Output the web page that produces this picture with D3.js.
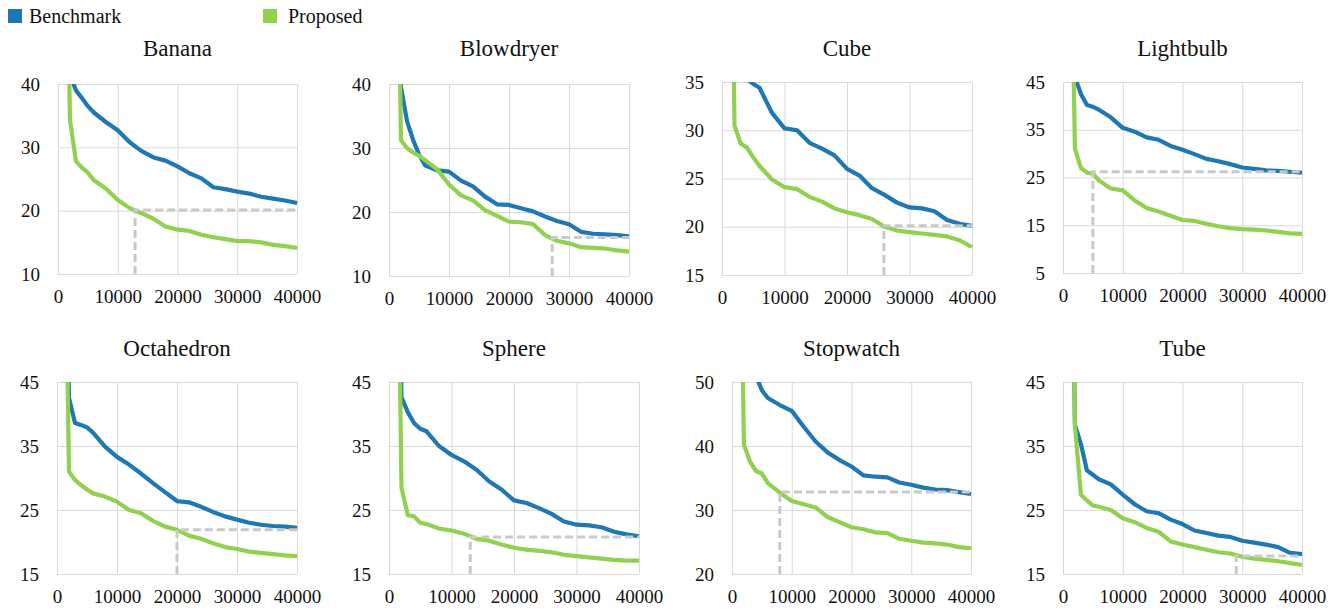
<!DOCTYPE html>
<html>
<head>
<meta charset="utf-8">
<script src="https://cdn.jsdelivr.net/npm/d3@7"></script>
<style>
  html, body { margin: 0; padding: 0; background: #fff; }
  svg { display: block; }
  text { font-family: "Liberation Serif", Tinos, "Times New Roman", Times, "DejaVu Serif", serif; fill: #111; }
</style>
</head>
<body>
<svg id="chart" width="1343" height="614"></svg>
<script>
// ---------------- DATA ----------------
const xValues = [1000, 2000, 3000, 4000, 5000, 6000, 8000, 10000, 12000, 14000, 16000, 18000, 20000,
                 22000, 24000, 26000, 28000, 30000, 32000, 34000, 36000, 38000, 40000];

const panelNames = ["Banana", "Blowdryer", "Cube", "Lightbulb", "Octahedron", "Sphere", "Stopwatch", "Tube"];
const seriesNames = ["Benchmark", "Proposed"];

const bananaBenchmark    = [60, 41.5, 39.0, 37.8, 36.5, 35.5, 34.0, 32.7, 30.8, 29.4, 28.4, 27.9, 27.0, 25.9, 25.1, 23.7, 23.4, 23.0, 22.7, 22.2, 21.9, 21.6, 21.2];
const bananaProposed     = [90, 34.4, 27.8, 26.8, 26.0, 24.8, 23.5, 21.7, 20.4, 19.6, 18.7, 17.5, 17.0, 16.8, 16.2, 15.8, 15.5, 15.2, 15.2, 15.0, 14.6, 14.4, 14.1];
const blowdryerBenchmark = [70, 39.5, 34.2, 31.3, 29.0, 27.3, 26.5, 26.3, 24.9, 24.0, 22.4, 21.2, 21.1, 20.6, 20.1, 19.3, 18.6, 18.1, 16.9, 16.6, 16.5, 16.4, 16.2];
const blowdryerProposed  = [90, 31.2, 30.0, 29.3, 28.8, 28.1, 26.7, 24.3, 22.6, 21.8, 20.3, 19.4, 18.5, 18.4, 18.1, 16.4, 15.5, 15.1, 14.5, 14.4, 14.3, 14.0, 13.8];
const cubeBenchmark      = [60, 45.0, 39.0, 35.3, 34.8, 34.4, 31.8, 30.2, 30.0, 28.7, 28.1, 27.4, 26.0, 25.3, 24.0, 23.3, 22.5, 22.0, 21.9, 21.6, 20.7, 20.3, 20.1];
const cubeProposed       = [80, 30.5, 28.6, 28.2, 27.2, 26.3, 24.9, 24.1, 23.9, 23.1, 22.6, 21.9, 21.5, 21.2, 20.8, 20.0, 19.6, 19.45, 19.3, 19.15, 19.0, 18.6, 17.9];
const lightbulbBenchmark = [90, 46.0, 42.5, 40.2, 39.8, 39.2, 37.6, 35.4, 34.6, 33.4, 32.9, 31.6, 30.8, 29.9, 28.9, 28.4, 27.8, 27.1, 26.8, 26.5, 26.4, 26.2, 26.0];
const lightbulbProposed  = [100, 31.0, 27.0, 26.0, 25.8, 24.4, 22.7, 22.3, 20.2, 18.6, 17.9, 17.0, 16.1, 15.9, 15.3, 14.8, 14.4, 14.2, 14.1, 13.9, 13.6, 13.3, 13.2];
const octahedronBenchmark = [90, 42.5, 38.6, 38.3, 37.9, 37.1, 34.9, 33.3, 32.1, 30.7, 29.2, 27.8, 26.4, 26.2, 25.5, 24.7, 24.0, 23.5, 23.0, 22.7, 22.5, 22.4, 22.2];
const octahedronProposed  = [90, 31.0, 29.7, 28.9, 28.2, 27.6, 27.1, 26.3, 25.0, 24.5, 23.3, 22.4, 21.9, 21.0, 20.5, 19.8, 19.2, 18.9, 18.5, 18.3, 18.1, 17.9, 17.8];
const sphereBenchmark    = [90, 42.6, 40.3, 38.6, 37.7, 37.3, 35.0, 33.6, 32.6, 31.3, 29.5, 28.2, 26.5, 26.1, 25.3, 24.4, 23.2, 22.7, 22.6, 22.3, 21.6, 21.2, 20.9];
const sphereProposed     = [100, 28.5, 24.2, 24.0, 23.0, 22.8, 22.1, 21.8, 21.3, 20.5, 20.2, 19.6, 19.1, 18.8, 18.6, 18.4, 18.0, 17.8, 17.6, 17.4, 17.2, 17.1, 17.1];
const stopwatchBenchmark = [100, 75, 60, 51.0, 48.7, 47.5, 46.4, 45.5, 43.0, 40.7, 39.0, 37.8, 36.8, 35.4, 35.2, 35.1, 34.3, 33.95, 33.5, 33.2, 33.1, 32.8, 32.5];
const stopwatchProposed  = [100, 40.2, 37.6, 36.1, 35.7, 34.2, 32.7, 31.4, 30.9, 30.4, 28.9, 28.1, 27.3, 27.0, 26.5, 26.4, 25.5, 25.2, 24.9, 24.8, 24.6, 24.2, 24.0];
const tubeBenchmark      = [100, 38.3, 35.3, 31.2, 30.5, 29.8, 29.0, 27.4, 25.9, 24.8, 24.5, 23.5, 22.8, 21.8, 21.4, 21.0, 20.8, 20.2, 19.9, 19.6, 19.2, 18.3, 18.1];
const tubeProposed       = [100, 38.1, 27.4, 26.5, 25.7, 25.5, 25.0, 23.7, 23.1, 22.2, 21.6, 20.1, 19.6, 19.2, 18.8, 18.4, 18.2, 17.7, 17.4, 17.2, 17.0, 16.7, 16.4];

const thresholdX = [12900, 27200, 25900, 5000, 20000, 13000, 8000, 29000];
const thresholdY = [20.1, 16.0, 20.1, 26.2, 21.9, 20.8, 32.8, 17.8];

const xTickValues = [0, 10000, 20000, 30000, 40000];
const yTickValues = [
  [10, 20, 30, 40],
  [10, 20, 30, 40],
  [15, 20, 25, 30, 35],
  [5, 15, 25, 35, 45],
  [15, 25, 35, 45],
  [15, 25, 35, 45],
  [20, 30, 40, 50],
  [15, 25, 35, 45]
];

const benchmarkSeries = [bananaBenchmark, blowdryerBenchmark, cubeBenchmark, lightbulbBenchmark,
                         octahedronBenchmark, sphereBenchmark, stopwatchBenchmark, tubeBenchmark];
const proposedSeries  = [bananaProposed, blowdryerProposed, cubeProposed, lightbulbProposed,
                         octahedronProposed, sphereProposed, stopwatchProposed, tubeProposed];

// ---------------- LAYOUT / STYLE ----------------
const FONT = '"Liberation Serif", Tinos, "Times New Roman", Times, "DejaVu Serif", serif';
const plotBoxes = [
  { l: 58,  r: 297,  t: 84,  b: 274 },
  { l: 389, r: 629,  t: 84,  b: 276 },
  { l: 722, r: 972,  t: 82,  b: 275 },
  { l: 1063, r: 1302, t: 82, b: 273 },
  { l: 57,  r: 297,  t: 382, b: 574 },
  { l: 389, r: 639,  t: 382, b: 574 },
  { l: 732, r: 971,  t: 382, b: 574 },
  { l: 1063, r: 1302, t: 382, b: 574 }
];
const titleBaselines = [55.5, 55.5, 55.5, 55.5, 355.5, 355.5, 355.5, 355.5];
const colors = { Benchmark: "#1f77b4", Proposed: "#92d050" };
const gridColor = "#d9d9d9";
const thresholdColor = "#c9c9c9";

const svg = d3.select("#chart");

// Legend
const legend = svg.append("g");
const legendPos = [{ x: 8, tx: 29 }, { x: 263, tx: 288 }];
seriesNames.forEach((name, i) => {
  legend.append("rect").attr("x", legendPos[i].x).attr("y", 9).attr("width", 14).attr("height", 14)
    .attr("fill", colors[name]);
  legend.append("text").attr("x", legendPos[i].tx).attr("y", 22.5).attr("font-size", 20)
    .attr("font-family", FONT).text(name);
});

panelNames.forEach((name, i) => {
  const box = plotBoxes[i];
  const yt = yTickValues[i];
  const x = d3.scaleLinear().domain([0, 40000]).range([box.l, box.r]);
  const y = d3.scaleLinear().domain([yt[0], yt[yt.length - 1]]).range([box.b, box.t]);
  const g = svg.append("g");

  // Gridlines via axes
  const yGrid = g.append("g").attr("transform", `translate(${box.l},0)`)
    .call(d3.axisLeft(y).tickValues(yt).tickSize(-(box.r - box.l)).tickFormat(""));
  yGrid.select(".domain").remove();
  yGrid.selectAll("line").attr("stroke", gridColor).attr("stroke-width", 1);

  const xGrid = g.append("g").attr("transform", `translate(0,${box.b})`)
    .call(d3.axisBottom(x).tickValues(xTickValues).tickSize(-(box.b - box.t)).tickFormat(""));
  xGrid.select(".domain").remove();
  xGrid.selectAll("line").attr("stroke", gridColor).attr("stroke-width", 1);

  // Tick labels
  const yAx = g.append("g").attr("transform", `translate(${box.l},0)`)
    .call(d3.axisLeft(y).tickValues(yt).tickSize(0).tickPadding(18).tickFormat(d3.format("d")));
  yAx.attr("font-family", FONT);
  yAx.select(".domain").remove();
  yAx.selectAll("text").attr("font-size", 19).attr("font-family", FONT).attr("fill", "#111");

  const xAx = g.append("g").attr("transform", `translate(0,${box.b})`)
    .call(d3.axisBottom(x).tickValues(xTickValues).tickSize(0).tickPadding(16).tickFormat(d3.format("d")));
  xAx.attr("font-family", FONT);
  xAx.select(".domain").remove();
  xAx.selectAll("text").attr("font-size", 19).attr("font-family", FONT).attr("fill", "#111");

  // Title
  g.append("text").attr("x", (box.l + box.r) / 2).attr("y", titleBaselines[i])
    .attr("text-anchor", "middle").attr("font-size", 23).attr("font-family", FONT).text(name);

  // Clip
  const clipId = "clip" + i;
  svg.append("clipPath").attr("id", clipId).append("rect")
    .attr("x", box.l - 3).attr("y", box.t).attr("width", box.r - box.l + 6).attr("height", box.b - box.t + 4);

  const line = d3.line().x((d, k) => x(xValues[k])).y(d => y(d));
  const series = [
    { name: "Benchmark", values: benchmarkSeries[i] },
    { name: "Proposed", values: proposedSeries[i] }
  ];
  const lg = g.append("g").attr("clip-path", `url(#${clipId})`);
  series.forEach(s => {
    lg.append("path").datum(s.values).attr("d", line)
      .attr("fill", "none").attr("stroke", colors[s.name]).attr("stroke-width", 4.2)
      .attr("stroke-linejoin", "round").attr("stroke-linecap", "butt");
  });

  // Threshold dashed lines
  const thr = [[thresholdX[i], yt[0]], [thresholdX[i], thresholdY[i]], [40000, thresholdY[i]]];
  lg.append("path").datum(thr)
    .attr("d", d3.line().x(d => x(d[0])).y(d => y(d[1])))
    .attr("fill", "none").attr("stroke", thresholdColor).attr("stroke-width", 3)
    .attr("stroke-dasharray", "8,4");
});
</script>
</body>
</html>
